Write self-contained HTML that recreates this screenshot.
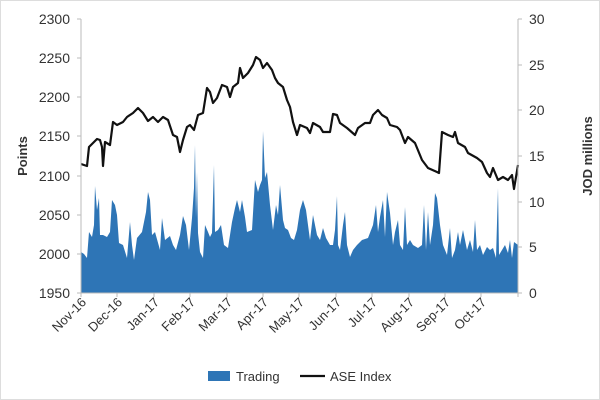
<!DOCTYPE html>
<html><head><style>body{margin:0;background:#fff}svg{display:block}text{font-family:"Liberation Sans",sans-serif;fill:#333}</style></head><body>
<svg width="600" height="400" viewBox="0 0 600 400">
<rect x="0.5" y="0.5" width="599" height="399" fill="#fff" stroke="#ddd"/>
<polygon fill="#2e75b6" points="81,293 81,252 84,254 87,258 89,232 92,237 94,225 95,186 97,210 99,198 100,235 103,235 107,237 110,232 112,200 115,205 117,215 119,243 123,245 127,258 130,222 132,245 134,260 137,238 142,232 146,212 148,192 150,200 152,235 155,232 160,250 162,218 165,240 170,236 173,245 176,250 180,235 183,216 186,225 189,250 192,218 194,188 195,145 196,218 197,172 198,233 200,252 203,258 205,225 208,232 210,237 212,233 214,165 215,232 218,230 221,225 224,245 228,248 232,222 235,208 237,200 240,212 242,200 245,217 247,232 252,230 255,180 258,192 260,185 262,180 263,131 265,178 267,172 270,205 273,230 276,205 278,215 280,185 283,220 285,228 288,230 291,238 294,240 297,230 300,210 303,200 306,210 310,240 313,215 317,235 320,240 323,228 326,238 330,245 333,245 335,230 337,196 338,245 340,250 343,225 345,212 347,245 350,257 353,250 357,245 362,240 368,238 373,225 376,205 378,232 380,217 383,200 385,237 387,192 390,213 393,245 395,232 398,220 400,245 403,250 405,207 407,245 410,240 413,245 418,248 422,245 424,205 426,250 428,212 430,245 433,225 435,193 437,198 440,225 443,245 447,255 450,228 452,258 455,250 458,232 460,245 463,230 467,250 470,240 473,252 475,220 477,250 480,245 483,255 487,247 490,250 493,248 496,258 498,188 499,255 502,250 505,245 508,253 510,240 512,258 514,242 518,245 518,293"/>
<polyline fill="none" stroke="#111" stroke-width="2.2" stroke-linejoin="round" points="81,164 87,166 89,147 93,143 97,139 100,140 102,147 103,166 105,142 110,145 113,122 117,125 123,122 127,117 133,113 138,108 143,113 148,121 153,117 158,122 163,117 168,120 173,135 177,137 180,152 183,140 187,127 190,125 194,130 198,115 203,113 207,88 210,92 213,103 217,98 222,85 227,87 230,97 233,87 238,83 240,68 243,78 248,73 253,65 256,57 260,60 263,68 267,63 272,70 275,78 278,83 283,87 287,100 290,107 293,122 297,135 300,125 307,128 310,133 313,123 320,127 323,132 330,132 333,114 337,115 340,123 347,128 355,135 358,128 365,123 370,123 373,115 378,110 382,115 387,118 390,125 397,127 400,130 405,143 408,137 415,143 422,160 428,168 437,172 439,173 442,132 448,135 453,137 455,132 458,143 465,147 468,153 477,158 482,162 487,173 490,177 493,168 498,180 503,177 508,180 512,175 514,189 518,165"/>
<g stroke="#bbb" stroke-width="1">
<line x1="81" y1="19" x2="81" y2="293"/><line x1="518" y1="19" x2="518" y2="293"/><line x1="81" y1="293" x2="518" y2="293"/>
<path d="M77 19H81M77 58H81M77 97H81M77 136H81M77 176H81M77 215H81M77 254H81M77 293H81"/>
<path d="M518 19H522M518 65H522M518 110H522M518 156H522M518 202H522M518 247H522M518 293H522"/>
<path d="M81 293V297M117 293V297M154 293V297M190 293V297M227 293V297M263 293V297M299 293V297M336 293V297M372 293V297M409 293V297M445 293V297M481 293V297M518 293V297"/>
</g>
<g font-size="14" text-anchor="end">
<text x="70" y="24">2300</text><text x="70" y="63">2250</text><text x="70" y="102">2200</text><text x="70" y="141">2150</text><text x="70" y="181">2100</text><text x="70" y="220">2050</text><text x="70" y="259">2000</text><text x="70" y="298">1950</text>
</g>
<g font-size="14">
<text x="529" y="24">30</text><text x="529" y="70">25</text><text x="529" y="115">20</text><text x="529" y="161">15</text><text x="529" y="207">10</text><text x="529" y="252">5</text><text x="529" y="298">0</text>
</g>
<text transform="translate(27,156) rotate(-90)" font-size="13" font-weight="bold" text-anchor="middle" fill="#111">Points</text>
<text transform="translate(592,156) rotate(-90)" font-size="13" font-weight="bold" text-anchor="middle" fill="#111">JOD millions</text>
<g font-size="13" text-anchor="end">
<text transform="translate(87,303) rotate(-45)">Nov-16</text>
<text transform="translate(123,303) rotate(-45)">Dec-16</text>
<text transform="translate(160,303) rotate(-45)">Jan-17</text>
<text transform="translate(196,303) rotate(-45)">Feb-17</text>
<text transform="translate(233,303) rotate(-45)">Mar-17</text>
<text transform="translate(269,303) rotate(-45)">Apr-17</text>
<text transform="translate(305,303) rotate(-45)">May-17</text>
<text transform="translate(342,303) rotate(-45)">Jun-17</text>
<text transform="translate(378,303) rotate(-45)">Jul-17</text>
<text transform="translate(415,303) rotate(-45)">Aug-17</text>
<text transform="translate(451,303) rotate(-45)">Sep-17</text>
<text transform="translate(487,303) rotate(-45)">Oct-17</text>
</g>
<rect x="208" y="371" width="22" height="10" fill="#2e75b6"/>
<text x="236" y="381" font-size="13">Trading</text>
<line x1="300" y1="376" x2="325" y2="376" stroke="#111" stroke-width="2.2"/>
<text x="330" y="381" font-size="13">ASE Index</text>
</svg>
</body></html>
